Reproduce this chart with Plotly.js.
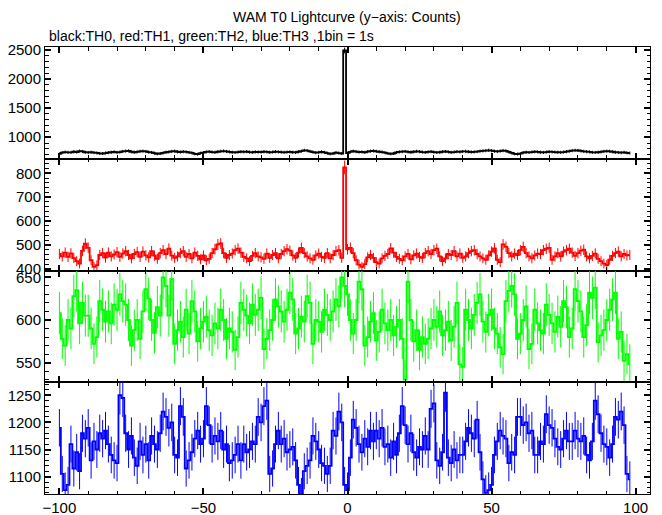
<!DOCTYPE html>
<html>
<head>
<meta charset="utf-8">
<script src="https://cdn.plot.ly/plotly-3.0.1.min.js"></script>
<style>html,body{margin:0;padding:0;background:#fff;}#chart{width:662px;height:515px;}</style>
</head>
<body>
<div id="chart"></div>
<script>
// time bins: 1 bin = 1 s, first bin at -100 s
const binStart = -100;
const binCount = 199;

const th0 = [
715,735,745,740,738,750,745,760,755,742,
738,742,735,730,722,720,728,735,742,748,
740,745,755,762,765,750,742,748,758,760,
755,745,738,725,715,720,730,742,748,755,
760,750,745,752,748,738,730,715,708,725,
735,748,752,745,740,750,758,762,755,748,
742,738,745,750,748,752,745,740,748,746,
744,750,748,742,745,752,748,744,740,745,
748,742,738,750,760,775,770,755,745,735,
740,748,738,725,715,720,735,728,720,2490,
725,748,760,752,745,748,740,752,760,765,
758,750,745,735,722,715,720,738,748,752,
755,748,742,750,758,752,745,740,748,752,
745,738,742,750,755,748,740,745,752,748,
755,758,750,745,748,752,760,765,770,775,
768,760,755,762,770,765,748,730,715,710,
718,735,742,738,745,750,748,742,738,745,
750,748,745,742,740,745,752,760,770,775,
772,765,758,752,748,740,738,742,748,755,
760,758,750,742,738,735,740,732,728];

const th1 = [
462,452,468,450,465,445,432,422,475,505,
488,436,408,415,458,466,447,468,452,460,
470,450,464,474,458,444,462,470,450,472,
456,448,474,455,442,466,478,462,485,455,
446,452,466,474,450,462,444,468,454,440,
456,436,442,466,482,502,506,466,446,458,
464,478,485,468,450,444,432,454,466,452,
448,442,464,446,458,466,444,462,474,482,
476,456,446,468,488,466,452,444,438,456,
464,450,446,466,444,458,474,478,446,825,
482,488,466,436,418,408,420,448,458,446,
428,422,444,454,462,486,468,450,442,436,
452,462,440,456,464,450,446,466,474,462,
478,484,452,432,444,462,458,474,452,464,
446,452,466,474,478,462,452,444,438,456,
472,486,438,428,502,492,466,452,464,458,
478,492,466,452,444,456,464,462,478,484,
488,438,452,466,452,472,478,484,468,454,
466,476,480,452,444,454,464,442,432,422,
416,438,454,466,472,452,462,456,458];

const th2 = [
608,578,570,600,590,628,635,596,620,605,
605,590,572,580,622,612,598,610,596,618,
612,630,622,618,600,570,588,600,578,610,
636,625,600,585,615,605,650,640,605,648,
572,588,598,580,612,584,622,610,575,590,
598,604,588,582,596,590,612,600,578,590,
586,565,580,620,612,605,596,618,606,612,
626,566,578,588,600,624,616,610,598,612,
632,624,584,590,604,598,628,620,572,600,
598,586,612,606,600,610,624,616,650,640,
630,600,584,600,645,636,570,580,598,608,
576,586,612,596,588,600,582,592,600,578,
530,645,600,575,588,565,580,572,578,590,
600,592,610,582,588,598,576,592,620,548,
545,612,600,590,606,620,630,598,586,606,
612,590,584,568,560,622,634,640,630,578,
584,600,616,566,572,612,596,588,584,618,
606,596,586,604,592,622,615,580,590,636,
622,610,580,594,632,626,638,574,582,588,
600,612,624,632,578,586,552,560,548];

const th3 = [
1190,1105,1075,1085,1160,1115,1145,1110,1180,1170,
1190,1130,1165,1150,1180,1170,1185,1160,1140,1130,
1125,1250,1245,1180,1150,1175,1135,1120,1165,1140,
1160,1130,1175,1160,1150,1180,1220,1210,1190,1200,
1140,1135,1230,1210,1115,1130,1145,1170,1185,1160,
1170,1230,1195,1160,1175,1165,1185,1150,1160,1125,
1130,1140,1160,1130,1160,1145,1150,1165,1160,1210,
1200,1230,1240,1105,1115,1160,1185,1160,1170,1145,
1150,1155,1130,1085,1065,1110,1120,1130,1175,1165,
1150,1125,1120,1105,1120,1185,1175,1220,1200,1085,
1075,1135,1205,1190,1160,1145,1170,1155,1185,1165,
1185,1170,1190,1155,1160,1135,1165,1140,1180,1230,
1195,1160,1180,1145,1135,1155,1150,1175,1150,1225,
1235,1130,1120,1145,1255,1135,1125,1150,1130,1140,
1140,1165,1190,1180,1170,1205,1145,1095,1070,1075,
1085,1140,1165,1185,1175,1170,1125,1145,1140,1210,
1210,1195,1200,1180,1185,1140,1140,1165,1160,1215,
1195,1190,1170,1155,1150,1170,1185,1165,1165,1185,
1170,1165,1175,1140,1130,1165,1240,1215,1180,1160,
1155,1135,1160,1210,1205,1220,1195,1105,1095];

const seriesNames = ['TH0','TH1','TH2','TH3'];
const seriesColors = ['#000000','#ff0000','#00ff00','#0000ff'];
const seriesData = [th0, th1, th2, th3];

const time = [];
for (let i = 0; i < binCount; i++) time.push(binStart + i);

const FONT = '"Liberation Sans", Arial, Helvetica, sans-serif';

const traces = seriesData.map((vals, k) => ({
  x: time,
  y: vals,
  type: 'scatter',
  mode: 'lines',
  name: seriesNames[k],
  line: {color: seriesColors[k], width: 1.8, shape: 'hvh'},
  error_y: {type: 'sqrt', visible: true, color: seriesColors[k], thickness: 1, width: 0},
  xaxis: k === 0 ? 'x' : 'x' + (k + 1),
  yaxis: k === 0 ? 'y' : 'y' + (k + 1),
  hoverinfo: 'x+y'
}));

const yRanges = [[630, 2550], [393, 861], [527, 658], [1068, 1274]];
const yDticks = [500, 100, 50, 50];
const yMinor = [100, 20, 10, 10];
const domains = [[0.75, 1], [0.5, 0.75], [0.25, 0.5], [0, 0.25]];

const layout = {
  width: 662, height: 515,
  margin: {l: 45, r: 12, t: 47, b: 21, pad: 0},
  paper_bgcolor: '#ffffff', plot_bgcolor: '#ffffff',
  showlegend: false,
  font: {family: FONT, size: 15, color: '#000'},
  annotations: [
    {text: 'WAM T0 Lightcurve (y\u2212axis: Counts)', xref: 'paper', yref: 'paper', x: 0.499, y: 1.067,
     xanchor: 'center', yanchor: 'middle', showarrow: false, font: {family: FONT, size: 14, color: '#000'}},
    {text: 'black:TH0, red:TH1, green:TH2, blue:TH3 ,1bin = 1s', xref: 'paper', yref: 'paper', x: 0.003, y: 1.0246,
     xanchor: 'left', yanchor: 'middle', showarrow: false, font: {family: FONT, size: 14, color: '#000'}}
  ]
};

for (let k = 0; k < 4; k++) {
  const xa = k === 0 ? 'xaxis' : 'xaxis' + (k + 1);
  const ya = k === 0 ? 'yaxis' : 'yaxis' + (k + 1);
  const yid = k === 0 ? 'y' : 'y' + (k + 1);
  const xid = k === 0 ? 'x' : 'x' + (k + 1);
  layout[xa] = {
    domain: [0, 1], anchor: yid, range: [-105, 105],
    showline: true, linecolor: '#000', linewidth: 1, mirror: 'allticks',
    ticks: 'inside', ticklen: 6, tickwidth: 2, tickcolor: '#000',
    dtick: 50, tick0: 0, showgrid: false, zeroline: false,
    showticklabels: k === 3,
    tickfont: {family: FONT, size: 15, color: '#000'},
    minor: {dtick: 10, ticklen: 3.5, tickwidth: 1, tickcolor: '#000', ticks: 'inside', showgrid: false}
  };
  layout[ya] = {
    domain: domains[k], anchor: xid, range: yRanges[k],
    showline: true, linecolor: '#000', linewidth: 1, mirror: 'allticks',
    ticks: 'inside', ticklen: 6, tickwidth: 2, tickcolor: '#000',
    dtick: yDticks[k], tick0: 0, showgrid: false, zeroline: false,
    tickfont: {family: FONT, size: 15, color: '#000'},
    minor: {dtick: yMinor[k], ticklen: 3.5, tickwidth: 1, tickcolor: '#000', ticks: 'inside', showgrid: false}
  };
}

Plotly.newPlot('chart', traces, layout, {staticPlot: true, displayModeBar: false});
</script>
</body>
</html>
